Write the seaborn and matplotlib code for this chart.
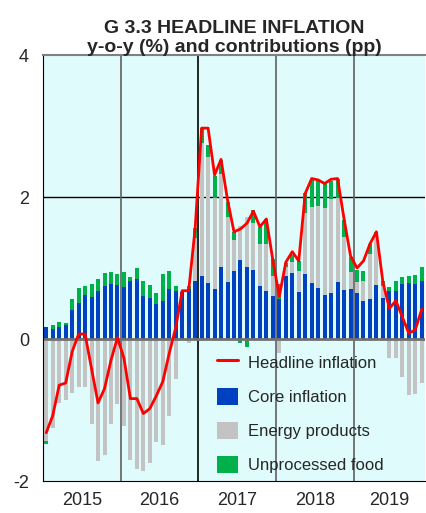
import matplotlib
matplotlib.use("Agg")
import matplotlib.pyplot as plt
import seaborn as sns
import numpy as np
from matplotlib.lines import Line2D
from matplotlib.patches import Patch

# monthly data, Jan 2015 - Nov 2019
core = [0.17, 0.14, 0.17, 0.20, 0.41, 0.51, 0.62, 0.59, 0.68, 0.74, 0.78, 0.76,
        0.73, 0.81, 0.85, 0.60, 0.58, 0.50, 0.54, 0.71, 0.67, 0.66, 0.71, 0.82,
        0.89, 0.79, 0.70, 1.02, 0.80, 0.96, 1.11, 1.01, 0.97, 0.75, 0.68, 0.61,
        0.57, 0.89, 0.93, 0.66, 0.92, 0.79, 0.72, 0.62, 0.65, 0.80, 0.69, 0.71,
        0.65, 0.53, 0.56, 0.76, 0.58, 0.68, 0.68, 0.77, 0.79, 0.78, 0.82]
energy = [-1.43, -1.26, -0.90, -0.86, -0.76, -0.67, -0.68, -1.20, -1.72, -1.63, -1.20, -0.91,
          -1.23, -1.71, -1.83, -1.86, -1.74, -1.45, -1.49, -1.08, -0.57, 0.02, -0.06, 0.60,
          1.87, 1.78, 1.28, 1.31, 0.92, 0.43, 0.48, 0.71, 0.66, 0.59, 0.66, 0.28,
          -0.20, 0.13, 0.16, 0.30, 0.86, 1.07, 1.15, 1.22, 1.32, 1.18, 0.75, 0.24,
          0.15, 0.29, 0.64, 0.70, 0.16, -0.27, -0.27, -0.54, -0.79, -0.77, -0.62]
food = [-0.05, 0.06, 0.07, 0.03, 0.16, 0.21, 0.12, 0.19, 0.16, 0.19, 0.16, 0.16,
        0.22, 0.07, 0.15, 0.22, 0.18, 0.15, 0.38, 0.25, 0.08, 0.00, 0.03, 0.14,
        0.21, 0.16, 0.31, 0.19, 0.21, 0.12, -0.05, -0.11, 0.18, 0.24, 0.35, 0.23,
        0.20, 0.05, 0.09, 0.14, 0.27, 0.40, 0.36, 0.35, 0.26, 0.27, 0.24, 0.21,
        0.17, 0.14, 0.14, 0.05, 0.08, 0.05, 0.13, 0.11, 0.10, 0.12, 0.20]
headline = [-1.32, -1.08, -0.65, -0.62, -0.18, 0.07, 0.07, -0.42, -0.90, -0.70, -0.30, 0.02,
            -0.27, -0.84, -0.84, -1.05, -0.98, -0.80, -0.60, -0.20, 0.16, 0.68, 0.68, 1.56,
            2.97, 2.97, 2.31, 2.53, 1.96, 1.51, 1.55, 1.63, 1.80, 1.58, 1.69, 1.11,
            0.60, 1.08, 1.23, 1.10, 2.05, 2.26, 2.24, 2.19, 2.25, 2.26, 1.69, 1.17,
            1.00, 1.10, 1.34, 1.51, 0.80, 0.43, 0.54, 0.31, 0.08, 0.13, 0.42]
years = ["2015", "2016", "2017", "2018", "2019"]
year_centers = [5.5, 17.5, 29.5, 41.5, 53.0]
year_breaks = [11.5, 23.5, 35.5, 47.5]

core = np.array(core)
energy = np.array(energy)
food = np.array(food)
months = np.arange(len(core))

# stacked tops/bottoms (positive parts up, negative parts down)
pos_e = np.clip(energy, 0, None)
neg_e = np.clip(energy, None, 0)
pos_f = np.clip(food, 0, None)
neg_f = np.clip(food, None, 0)
top_food = core + pos_e + pos_f
top_energy = core + pos_e
bot_food = neg_e + neg_f
bot_energy = neg_e

c_blue = "#0041C2"
c_grey = "#C3C3C3"
c_green = "#00B04A"
c_bg = "#E0FBFC"

sns.set_style("white")
plt.rcParams['font.family'] = ['Liberation Sans', 'DejaVu Sans']

fig = plt.figure(figsize=(4.26, 5.13), dpi=100)
ax = fig.add_axes([43/426, 1 - 481/513, 382/426, 426/513])
ax.set_facecolor(c_bg)

bar_kw = dict(width=0.62, linewidth=0, saturation=1, errorbar=None, ax=ax)
for vals, col in [(top_food, c_green), (bot_food, c_green),
                  (top_energy, c_grey), (bot_energy, c_grey),
                  (core, c_blue)]:
    sns.barplot(x=months, y=vals, color=col, **bar_kw)

sns.lineplot(x=months, y=headline, color="#FF0000", linewidth=2.0, ax=ax, zorder=5)

ax.set_xlim(-0.5, 58.5)
ax.set_ylim(-2, 4)

# grid / reference lines
ax.axhline(2, color="black", linewidth=1.0, zorder=0.5)
ax.axhline(0, color="#707070", linewidth=2.0, zorder=1)
for i, xb in enumerate(year_breaks):
    ax.axvline(xb, color="black" if i == 1 else "#606060", linewidth=1.2, zorder=0.5)

ax.spines["right"].set_visible(False)
ax.spines["left"].set_color("black")
ax.spines["bottom"].set_color("black")
ax.spines["top"].set_color("#808080")
ax.spines["top"].set_linewidth(1.5)

ax.set_yticks([-2, 0, 2, 4])
ax.set_yticklabels(["-2", "0", "2", "4"])
ax.tick_params(axis="y", length=6, width=1.2, color="#606060", pad=4, labelsize=13)
ax.set_xticks(year_centers)
ax.set_xticklabels(years)
ax.tick_params(axis="x", length=0, pad=8, labelsize=13)
ax.set_xlabel("")
ax.set_ylabel("")

ax.set_title("G 3.3 HEADLINE INFLATION\ny-o-y (%) and contributions (pp)",
             fontsize=14, fontweight="bold", pad=2, linespacing=1.15)

handles = [Line2D([0], [0], color="#FF0000", linewidth=2.2),
           Patch(facecolor=c_blue, edgecolor="none"),
           Patch(facecolor=c_grey, edgecolor="none"),
           Patch(facecolor=c_green, edgecolor="none")]
labels = ["Headline inflation", "Core inflation", "Energy products", "Unprocessed food"]
ax.legend(handles, labels, loc="lower left", bbox_to_anchor=(217/426, 1 - 473/513),
          bbox_transform=fig.transFigure, frameon=False, fontsize=12,
          handlelength=1.25, handleheight=1.2, labelspacing=1.02,
          handletextpad=0.6, borderpad=0, borderaxespad=0)

fig.savefig("out.png", dpi=100)
